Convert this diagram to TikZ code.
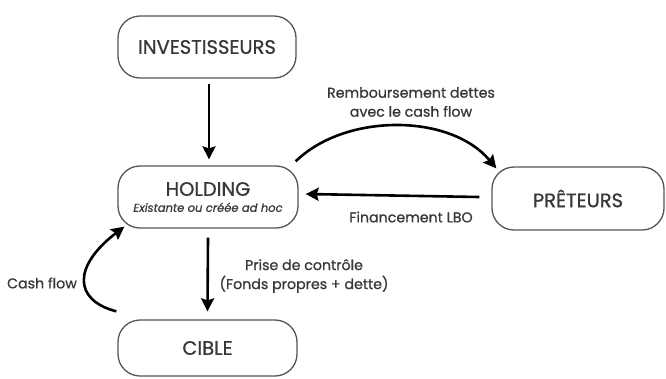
\documentclass[tikz,border=0pt]{standalone}
\usepackage{fontspec}
\setmainfont{Poppins}[FakeBold=0.9]
\usetikzlibrary{arrows.meta,calc}
\definecolor{txt}{HTML}{383838}
\definecolor{boxline}{HTML}{555555}
\tikzset{
  box/.style={draw=boxline, line width=1.3pt, rounded corners=22pt, inner sep=0pt, text=txt, font=\fontsize{19.5}{21}\selectfont, align=center},
  conn/.style={draw=black, line width=2.6pt, -{Stealth[length=13pt,width=13pt,inset=2pt]}},
  lbl/.style={text=txt, font=\fontsize{14.2}{19}\selectfont, align=center, inner sep=0pt},
}
\begin{document}
\begin{tikzpicture}[x=1pt,y=-1pt]
\useasboundingbox (0,0) rectangle (666,378);
\node[box, minimum width=178pt, minimum height=62pt] (inv) at (207,47) {INVESTISSEURS};
\node[box, minimum width=180pt, minimum height=62pt] (hold) at (208,197) {HOLDING\\[-5pt]{\fontsize{11.5}{13}\selectfont\itshape Existante ou créée ad hoc}};
\node[box, minimum width=179pt, minimum height=56pt] (cible) at (207.5,348) {CIBLE};
\node[box, minimum width=172pt, minimum height=63pt] (pret) at (578,198.5) {PRÊTEURS};

\draw[conn] ([xshift=2pt,yshift=-5pt]inv.south) -- ([xshift=1pt,yshift=6pt]hold.north);
\draw[conn] ([yshift=-9pt]hold.south) -- ([yshift=8pt]cible.north);
\draw[conn] ([xshift=-1pt,yshift=8pt]cible.north west) .. controls (73,300) and (73,266) .. ([xshift=7pt,yshift=2pt]hold.south west);
\draw[conn] ([xshift=-3pt,yshift=4pt]hold.north east) .. controls (345,113) and (450,113) .. ([xshift=5pt,yshift=-2pt]pret.north west);
\draw[conn] ([xshift=-12pt,yshift=1.5pt]pret.west) -- ([xshift=7pt,yshift=3pt]hold.east);

\node[lbl] (lrem) at (411,102) {Remboursement dettes\\avec le cash flow};
\node[lbl] (lfin) at (411,217) {Financement LBO};
\node[lbl] (lpri) at (304,276) {Prise de contrôle\\(Fonds propres + dette)};
\node[lbl] (lcash) at (42,283) {Cash flow};
\end{tikzpicture}
\end{document}
